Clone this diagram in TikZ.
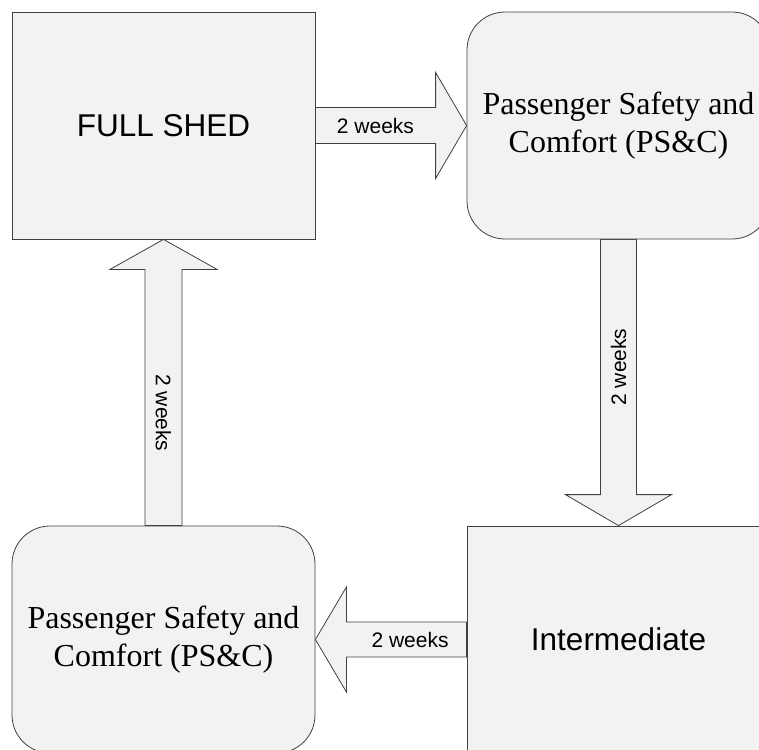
\documentclass[tikz,border=0pt]{standalone}
\usepackage{fontspec}
\setmainfont{Liberation Serif}
\setsansfont{Liberation Sans}
\usetikzlibrary{calc,backgrounds}

\definecolor{boxfill}{HTML}{F2F2F2}
\definecolor{boxline}{HTML}{404040}

\tikzset{
  stage/.style={draw=boxline, fill=boxfill, line width=0.8pt,
    minimum width=303pt, minimum height=227pt, inner sep=0pt,
    align=center, anchor=center},
  plainstage/.style={stage, font=\sffamily\fontsize{31.5}{36}\selectfont},
  roundstage/.style={stage, rounded corners=38pt,
    font=\rmfamily\fontsize{32}{38}\selectfont},
  barrow/.style={draw=boxline, fill=boxfill, line width=0.8pt, line join=miter},
  weeks/.style={font=\sffamily\fontsize{21}{24}\selectfont, inner sep=0pt}
}

\begin{document}
\begin{tikzpicture}[x=1pt, y=-1pt]
  \useasboundingbox (0,0) rectangle (759,749);
  \clip (0,0) rectangle (759,749);

  % the four stages of the cycle
  \node[plainstage] (full)  at (163.5,125.5) {FULL SHED};
  \node[roundstage] (psca)  at (618.5,125.5) {Passenger Safety and\\Comfort (PS\&C)};
  \node[plainstage] (inter) at (618.5,639.5) {Intermediate};
  \node[roundstage] (pscb)  at (163.5,639.5) {Passenger Safety and\\Comfort (PS\&C)};

  % block arrows between the stages (shaft half width 18, head half width 53, head length 31)
  \begin{scope}[on background layer]
    \draw[barrow] ($(full.east)+(0,-18)$) -- ($(psca.west)+(-31,-18)$)
      -- ($(psca.west)+(-31,-53)$) -- (psca.west) -- ($(psca.west)+(-31,53)$)
      -- ($(psca.west)+(-31,18)$) -- ($(full.east)+(0,18)$) -- cycle;
    \draw[barrow] ($(psca.south)+(-18,0)$) -- ($(inter.north)+(-18,-31)$)
      -- ($(inter.north)+(-53,-31)$) -- (inter.north) -- ($(inter.north)+(53,-31)$)
      -- ($(inter.north)+(18,-31)$) -- ($(psca.south)+(18,0)$) -- cycle;
    \draw[barrow] ($(inter.west)+(0,-17.5)$) -- ($(pscb.east)+(31,-17.5)$)
      -- ($(pscb.east)+(31,-52.5)$) -- (pscb.east) -- ($(pscb.east)+(31,52.5)$)
      -- ($(pscb.east)+(31,17.5)$) -- ($(inter.west)+(0,17.5)$) -- cycle;
    \draw[barrow] ($(pscb.north)+(-18.5,0)$) -- ($(full.south)+(-18.5,30)$)
      -- ($(full.south)+(-53.5,30)$) -- (full.south) -- ($(full.south)+(53.5,30)$)
      -- ($(full.south)+(18.5,30)$) -- ($(pscb.north)+(18.5,0)$) -- cycle;
  \end{scope}

  % duration labels on the arrow shafts
  \node[weeks] (w1) at ($(full.east)!0.5!($(psca.west)+(-31,0)$)$) {2 weeks};
  \node[weeks, rotate=90] (w2) at ($(psca.south)!0.5!($(inter.north)+(0,-31)$)$) {2 weeks};
  \node[weeks] (w3) at ($(inter.west)!0.47!($(pscb.east)+(31,0)$)$) {2 weeks};
  \node[weeks, rotate=-90] (w4) at ($(pscb.north)!0.44!($(full.south)+(0,30)$)$) {2 weeks};
\end{tikzpicture}
\end{document}
